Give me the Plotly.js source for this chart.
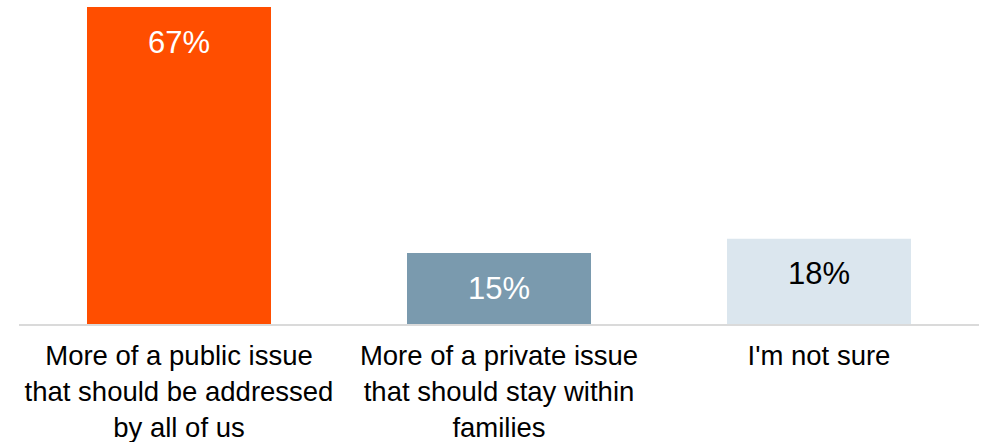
<!DOCTYPE html>
<html>
<head>
<meta charset="utf-8">
<script src="https://cdn.plot.ly/plotly-3.0.1.min.js"></script>
<style>html,body{margin:0;padding:0;background:#fff;}#chart{width:987px;height:442px;}</style>
</head>
<body>
<div id="chart"></div>
<script>
var categories = ["More of a public issue<br>that should be addressed<br>by all of us", "More of a private issue<br>that should stay within<br>families", "I'm not sure"];
var values = [67, 15, 18];
var labels = ["67%", "15%", "18%"];
var barColors = ["#FF4E00", "#7A9AAE", "#DBE6EE"];
var labelColors = ["#FFFFFF", "#FFFFFF", "#000000"];

var trace = {
  type: "bar",
  x: categories,
  y: values,
  marker: {color: barColors, line: {width: 0}},
  hoverinfo: "none",
  textposition: "none"
};

var annotations = categories.map(function (c, i) {
  return {
    x: c, y: values[i], xref: "x", yref: "y",
    text: labels[i], showarrow: false,
    yanchor: "middle", yshift: -35,
    font: {family: "Liberation Sans, Arial, sans-serif", size: 31, color: labelColors[i]}
  };
});

var layout = {
  width: 987, height: 442,
  margin: {l: 19, r: 8, t: 7, b: 118},
  paper_bgcolor: "#fff", plot_bgcolor: "#fff",
  bargap: 0.425,
  showlegend: false,
  font: {family: "Liberation Sans, Arial, sans-serif", size: 27.5, color: "#000"},
  xaxis: {
    showline: true, linecolor: "#DADADA", linewidth: 2,
    ticks: "", showgrid: false, zeroline: false,
    ticklabelstandoff: 6,
    tickfont: {size: 27.5, color: "#000"}
  },
  yaxis: {
    range: [0, 67], visible: false, showgrid: false, zeroline: false
  },
  annotations: annotations
};

Plotly.newPlot("chart", [trace], layout, {displayModeBar: false, staticPlot: true});
</script>
</body>
</html>
